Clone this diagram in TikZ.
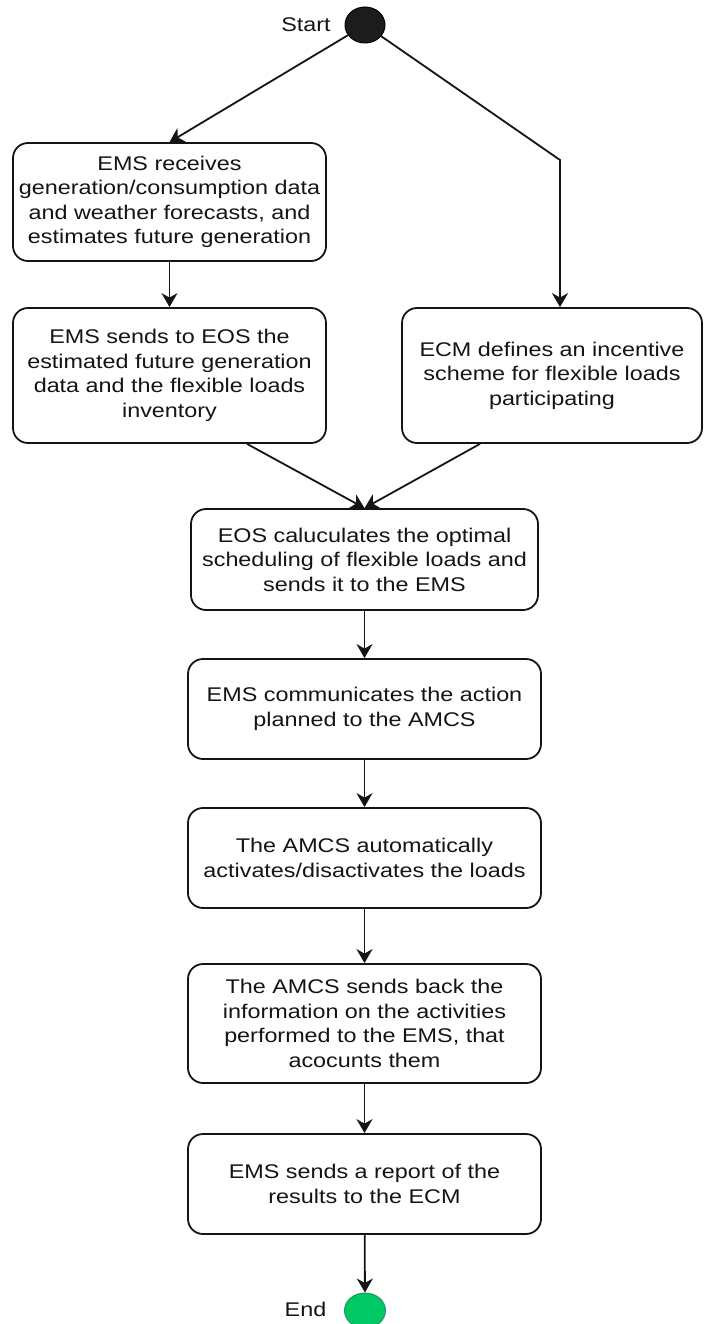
\documentclass[tikz,border=0pt]{standalone}
\usepackage{fontspec}
\setmainfont{Liberation Sans}[FakeStretch=1.18]
\usetikzlibrary{arrows.meta,calc,shapes.geometric}

\definecolor{startfill}{HTML}{1C1C1C}
\definecolor{endfill}{HTML}{00C864}
\definecolor{endline}{HTML}{22985A}
\definecolor{ink}{HTML}{141414}

\tikzset{
  stepbox/.style={draw=ink, line width=1.8pt, rounded corners=15pt, text=ink,
    align=center, inner sep=0pt, font=\fontsize{19.8pt}{24.5pt}\selectfont},
  flow/.style={draw=ink, line width=1.8pt,
    -{Stealth[length=14pt,width=16pt,inset=4.5pt]}},
  lbl/.style={font=\fontsize{19.8pt}{24pt}\selectfont, inner sep=0pt, text=ink}
}

\begin{document}
\begin{tikzpicture}[x=1pt, y=-1pt]
  \useasboundingbox (0,0) rectangle (707,1324);

  % initial and final states
  \node[ellipse, draw=black, fill=startfill, line width=1pt,
        minimum width=40pt, minimum height=36pt, inner sep=0pt] (start) at (365,25) {};
  \node[lbl] (startlbl) at (306,25) {Start};

  % activities
  \node[stepbox, minimum width=313pt, minimum height=118pt] (b1) at (169.5,202)
    {EMS receives\\generation/consumption data\\and weather forecasts, and\\estimates future generation};
  \node[stepbox, minimum width=313pt, minimum height=135pt] (b2) at (169.5,375.5)
    {EMS sends to EOS the\\estimated future generation\\data and the flexible loads\\inventory};
  \node[stepbox, minimum width=300pt, minimum height=135pt] (b3) at (552,375.5)
    {ECM defines an incentive\\scheme for flexible loads\\participating};
  \node[stepbox, minimum width=347pt, minimum height=101pt] (b4) at (364.5,559.5)
    {EOS caluculates the optimal\\scheduling of flexible loads and\\sends it to the EMS};
  \node[stepbox, minimum width=353pt, minimum height=100pt] (b5) at (364.5,709)
    {EMS communicates the action\\planned to the AMCS};
  \node[stepbox, minimum width=353pt, minimum height=100pt] (b6) at (364.5,858)
    {The AMCS automatically\\activates/disactivates the loads};
  \node[stepbox, minimum width=353pt, minimum height=119pt] (b7) at (364.5,1023.5)
    {The AMCS sends back the\\information on the activities\\performed to the EMS, that\\acocunts them};
  \node[stepbox, minimum width=353pt, minimum height=100pt] (b8) at (364.5,1184)
    {EMS sends a report of the\\results to the ECM};

  \node[ellipse, draw=endline, fill=endfill, line width=1pt,
        minimum width=41pt, minimum height=35pt, inner sep=0pt] (end) at (365,1310.5) {};
  \node[lbl] (endlbl) at (305.5,1309) {End};

  % control flow
  \coordinate (bend) at (560,160);
  \draw[flow] (start) -- (b1.north);
  \draw[flow] (start) -- (bend) -- (bend |- b3.north);
  \draw[flow] (b1) -- (b2);
  \draw[flow] ($(b2.south)+(77.5,0)$) -- (b4.north);
  \draw[flow] ($(b3.south)+(-72,0)$) -- (b4.north);
  \draw[flow] (b4) -- (b5);
  \draw[flow] (b5) -- (b6);
  \draw[flow] (b6) -- (b7);
  \draw[flow] (b7) -- (b8);
  \draw[flow] (b8) -- (end);
\end{tikzpicture}
\end{document}
